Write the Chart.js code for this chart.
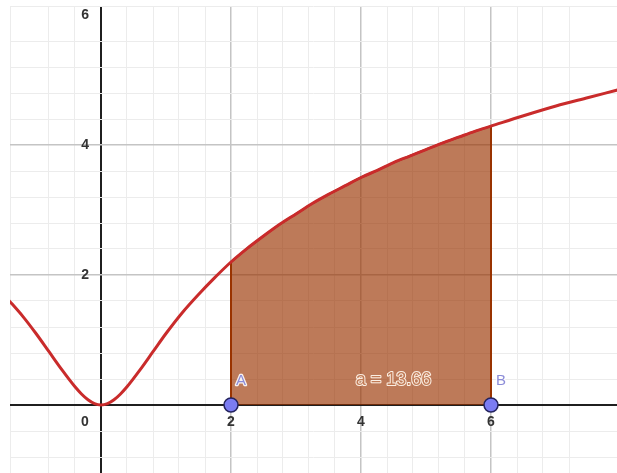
<!DOCTYPE html>
<html>
<head>
<meta charset="utf-8">
<script src="https://cdn.jsdelivr.net/npm/chart.js@4.4.1/dist/chart.umd.min.js"></script>
<style>
  html, body { margin: 0; padding: 0; background: #fff; }
  #wrap { width: 617px; height: 473px; }
</style>
</head>
<body>
<div id="wrap"><canvas id="myChart"></canvas></div>
<script>
// curve
const curveX = [-1.6, -1.4, -1.2, -1.0, -0.8, -0.6, -0.4, -0.3, -0.2, -0.1, 0, 0.1, 0.2, 0.3, 0.4, 0.6, 0.8, 1.0, 1.25, 1.5, 1.75,
                2.0, 2.25, 2.5, 2.75, 3.0, 3.25, 3.5, 3.75, 4.0, 4.25, 4.5, 4.75, 5.0, 5.25, 5.5, 5.75, 6.0,
                6.5, 7.0, 7.5, 8.0];
const curveY = [1.81, 1.59, 1.36, 1.10, 0.82, 0.54, 0.28, 0.17, 0.08, 0.02, 0, 0.02, 0.08, 0.17, 0.28, 0.54, 0.82, 1.10, 1.42, 1.70, 1.96,
                2.20, 2.41, 2.60, 2.78, 2.94, 3.10, 3.24, 3.37, 3.50, 3.61, 3.73, 3.83, 3.93, 4.03, 4.12, 4.21, 4.29,
                4.45, 4.60, 4.73, 4.86];

const pointNames = ['A', 'B'];
const pointX = [2, 6];
const xTickVals = [2, 4, 6];
const yTickVals = [2, 4, 6];
const areaLabel = 'a = 13.66';

// 65 px per unit, origin at (101, 405); plot starts 10px from the left, 6px from the top
const xMin = -91 / 65, xMax = 516 / 65;
const yMin = -68 / 65, yMax = 399 / 65;

const curve = curveX.map((x, i) => ({x: x, y: curveY[i]}));
const area = [{x: pointX[0], y: 0}]
  .concat(curve.filter(p => p.x >= pointX[0] && p.x <= pointX[1]))
  .concat([{x: pointX[1], y: 0}]);
const points = pointX.map(x => ({x: x, y: 0}));

function gridColor(ctx) {
  const v = ctx.tick ? ctx.tick.value : 1;
  if (Math.abs(v) < 1e-6) return '#1f1f1f';
  if (Math.abs(v / 2 - Math.round(v / 2)) < 1e-6) return '#c4c4c4';
  return '#ececec';
}
function gridWidth(ctx) {
  const v = ctx.tick ? ctx.tick.value : 1;
  if (Math.abs(v) < 1e-6) return 2;
  if (Math.abs(v / 2 - Math.round(v / 2)) < 1e-6) return 1.5;
  return 1;
}

const labels = {
  id: 'labels',
  beforeDatasetsDraw(chart) {
    const {ctx, scales: {x, y}} = chart;
    const x0 = x.getPixelForValue(0), y0 = y.getPixelForValue(0);
    ctx.save();
    ctx.font = '600 14px "Liberation Sans", Arial, sans-serif';
    ctx.fillStyle = '#333';
    ctx.textBaseline = 'middle';
    ctx.textAlign = 'center';
    xTickVals.forEach(v => ctx.fillText(String(v), x.getPixelForValue(v), y0 + 17));
    ctx.fillText('0', x0 - 16, y0 + 17);
    ctx.textAlign = 'right';
    yTickVals.forEach(v => ctx.fillText(String(v), x0 - 12, y.getPixelForValue(v)));
    ctx.restore();
  },
  afterDatasetsDraw(chart) {
    const {ctx, scales: {x, y}} = chart;
    ctx.save();
    ctx.lineJoin = 'round';
    // area value
    ctx.font = '18px "Liberation Sans", Arial, sans-serif';
    ctx.textAlign = 'center';
    ctx.textBaseline = 'middle';
    const ax = x.getPixelForValue(4.5), ay = y.getPixelForValue(0.39);
    ctx.strokeStyle = 'rgba(255,245,235,0.95)';
    ctx.lineWidth = 2;
    ctx.strokeText(areaLabel, ax, ay);
    ctx.fillStyle = '#c07a55';
    ctx.fillText(areaLabel, ax, ay);
    // point names
    ctx.font = '15px "Liberation Sans", Arial, sans-serif';
    ctx.textAlign = 'left';
    const meta = chart.getDatasetMeta(0);
    meta.data.forEach((el, i) => {
      ctx.strokeStyle = 'rgba(255,255,255,0.9)';
      ctx.lineWidth = 2.5;
      ctx.strokeText(pointNames[i], el.x + 5, el.y - 24);
      ctx.fillStyle = '#8c8cd8';
      ctx.fillText(pointNames[i], el.x + 5, el.y - 24);
    });
    ctx.restore();
  }
};

new Chart(document.getElementById('myChart'), {
  type: 'scatter',
  data: {
    datasets: [
      {
        label: 'points',
        data: points,
        order: 0,
        pointRadius: 7,
        pointHoverRadius: 7,
        pointBackgroundColor: '#7b7cf2',
        pointBorderColor: '#23235e',
        pointBorderWidth: 1.5,
        showLine: false
      },
      {
        label: 'f',
        data: curve,
        order: 1,
        showLine: true,
        borderColor: '#c92b2b',
        borderWidth: 3,
        pointRadius: 0,
        cubicInterpolationMode: 'monotone',
        fill: false
      },
      {
        label: 'area',
        data: area,
        order: 2,
        showLine: true,
        tension: 0,
        borderColor: 'rgb(153,51,0)',
        borderWidth: 2,
        pointRadius: 0,
        backgroundColor: 'rgba(153,51,0,0.65)',
        fill: 'origin'
      }
    ]
  },
  options: {
    responsive: true,
    maintainAspectRatio: false,
    animation: false,
    events: [],
    layout: { padding: { left: 10, top: 6, right: 0, bottom: 0 }, autoPadding: false },
    plugins: { legend: { display: false }, tooltip: { enabled: false } },
    scales: {
      x: {
        type: 'linear',
        min: xMin, max: xMax,
        ticks: { display: false, stepSize: 0.4, maxTicksLimit: 100 },
        grid: { color: gridColor, lineWidth: gridWidth, drawTicks: false },
        border: { display: false }
      },
      y: {
        type: 'linear',
        min: yMin, max: yMax,
        ticks: { display: false, stepSize: 0.4, maxTicksLimit: 100 },
        grid: { color: gridColor, lineWidth: gridWidth, drawTicks: false },
        border: { display: false }
      }
    }
  },
  plugins: [labels]
});
</script>
</body>
</html>
